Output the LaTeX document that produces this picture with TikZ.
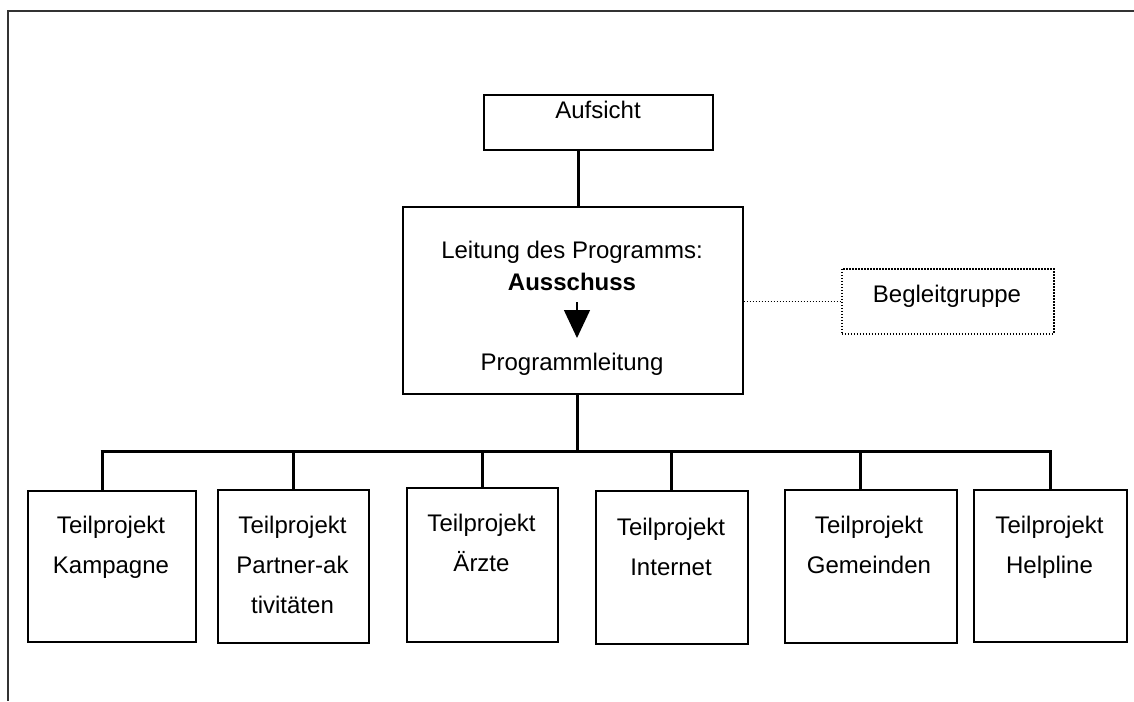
\documentclass[tikz,border=0pt]{standalone}
\usepackage{fontspec}
\setmainfont{Liberation Sans}
\usetikzlibrary{arrows.meta}
\begin{document}
\begin{tikzpicture}[x=1pt,y=-1pt,
  box/.style={draw=black,line width=1.5pt,inner sep=0pt,anchor=north west},
  txt/.style={font=\fontsize{24}{40}\selectfont,inner sep=0pt,align=center},
  conn/.style={draw=black,line width=3pt},
  dots/.style={dash pattern=on 1.5pt off 1.5pt},
  frameline/.style={draw=black!80,line width=2.2pt}]
\useasboundingbox (0,0) rectangle (1134,701);
% outer frame (top and left)
\coordinate (fa) at (8,11);
\coordinate (fb) at (1134,11);
\coordinate (fc) at (8,701);
\draw[frameline] (fb) -- (fa) -- (fc);
% top box
\node[box,minimum width=229pt,minimum height=55pt] (auf) at (483,94) {};
\node[txt,anchor=base] (auft) at (598,118) {Aufsicht};
% middle box
\node[box,minimum width=340pt,minimum height=187pt] (lei) at (402,206) {};
\node[txt,anchor=base] (l1) at (572,258) {Leitung des Programms:};
\node[txt,anchor=base,font=\fontsize{24}{40}\selectfont\bfseries] (l2) at (572,290) {Ausschuss};
\coordinate (a1) at (577,302);
\coordinate (a2) at (577,338);
\draw[line width=1.5pt,-{Triangle[width=26pt,length=28pt]}] (a1) -- (a2);
\node[txt,anchor=base] (l3) at (572,370) {Programmleitung};
% Begleitgruppe
\node[box,dots,minimum width=212pt,minimum height=65pt] (beg) at (841,268) {};
\node[txt,anchor=base] (begt) at (947,302) {Begleitgruppe};
\draw[dots,line width=1.5pt] (lei.east |- beg.west) -- (beg.west);
% connectors top
\coordinate (c1) at (578,149);
\coordinate (c2) at (578,206);
\draw[conn] (c1) -- (c2);
\coordinate (c3) at (577,393);
\coordinate (bus) at (577,451);
\draw[conn] (c3) -- (bus);
% bottom boxes
\node[box,minimum width=168pt,minimum height=151pt] (b1) at (27,490) {};
\node[box,minimum width=151pt,minimum height=153pt] (b2) at (217,489) {};
\node[box,minimum width=151pt,minimum height=154pt] (b3) at (406,487) {};
\node[box,minimum width=152pt,minimum height=153pt] (b4) at (595,490) {};
\node[box,minimum width=172pt,minimum height=153pt] (b5) at (784,489) {};
\node[box,minimum width=153pt,minimum height=152pt] (b6) at (973,489) {};
\node[txt,anchor=north] (t1) at (111,516) {Teilprojekt\\Kampagne};
\node[txt,anchor=north] (t2) at (292.5,516) {Teilprojekt\\Partner-ak\\tivitäten};
\node[txt,anchor=north] (t3) at (481.5,514) {Teilprojekt\\Ärzte};
\node[txt,anchor=north] (t4) at (671,518) {Teilprojekt\\Internet};
\node[txt,anchor=north] (t5) at (869,516) {Teilprojekt\\Gemeinden};
\node[txt,anchor=north] (t6) at (1049.5,516) {Teilprojekt\\Helpline};
% bus
\coordinate (p1) at (102,451);
\coordinate (p2) at (293,451);
\coordinate (p3) at (482,451);
\coordinate (p4) at (671,451);
\coordinate (p5) at (860,451);
\coordinate (p6) at (1050,451);
\draw[conn] ([xshift=-1.5pt]p1) -- ([xshift=1.5pt]p6);
\draw[conn] (p1) -- (p1 |- b1.north);
\draw[conn] (p2) -- (p2 |- b2.north);
\draw[conn] (p3) -- (p3 |- b3.north);
\draw[conn] (p4) -- (p4 |- b4.north);
\draw[conn] (p5) -- (p5 |- b5.north);
\draw[conn] (p6) -- (p6 |- b6.north);
\end{tikzpicture}
\end{document}
